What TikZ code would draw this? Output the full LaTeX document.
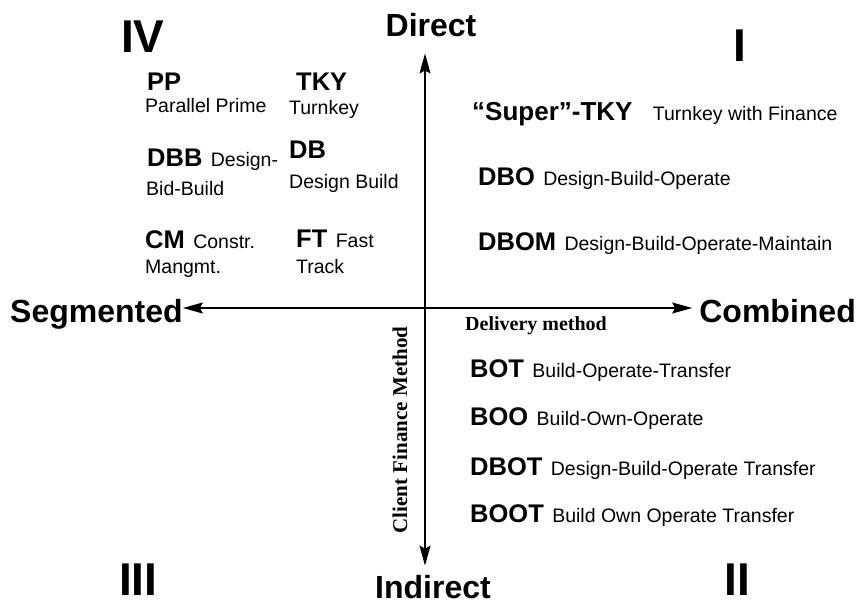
\documentclass[tikz,border=0pt]{standalone}
\usepackage{fontspec}
\setmainfont{Liberation Sans}
\newfontfamily\timesfont{Liberation Serif}
\usetikzlibrary{arrows.meta,positioning}

\begin{document}
\begin{tikzpicture}[x=1pt, y=-1pt, node distance=8pt]
    \tikzstyle{quadrant} = [font=\fontsize{46}{46}\selectfont\bfseries, inner sep=0pt, anchor=base west]
    \tikzstyle{pole} = [font=\fontsize{32}{32}\selectfont\bfseries, inner sep=0pt, anchor=base]
    \tikzstyle{acro} = [font=\fontsize{25.5}{26}\selectfont\bfseries, inner sep=0pt, anchor=base west]
    \tikzstyle{expl} = [font=\fontsize{19.5}{20}\selectfont, inner sep=0pt, anchor=base west]
    \tikzstyle{dim} = [font=\timesfont\fontsize{20}{20}\selectfont\bfseries, inner sep=0pt]
    \tikzstyle{axis} = [draw, line width=1.3pt, {Stealth[length=20pt,width=11pt,inset=3pt]}-{Stealth[length=20pt,width=11pt,inset=3pt]}]

    \useasboundingbox (0,0) rectangle (858,604);

    \node [quadrant] (q4) at (121,53) {IV};
    \node [quadrant] (q1) at (733,62) {I};
    \node [quadrant] (q3) at (119,595) {III};
    \node [quadrant] (q2) at (724,595) {II};

    \node [pole] (direct) at (431,37) {Direct};
    \node [pole] (indirect) at (433,598) {Indirect};
    \node [pole, anchor=base west] (seg) at (10,322) {Segmented};
    \node [pole, anchor=base east] (comb) at (856,322) {Combined};

    \coordinate (o) at (425,308);
    \draw [axis, shorten >=7pt] (seg.east |- o) -- (comb.west |- o);
    \draw [axis, shorten <=16pt, shorten >=9pt] (direct.south -| o) -- (indirect.north -| o);

    \node [dim, anchor=base west] (deliv) at (465,330) {Delivery method};
    \node [dim, font=\timesfont\fontsize{21}{21}\selectfont\bfseries, rotate=90, anchor=base] (finance) at (407,430) {Client Finance Method};

    \node [acro] (pp) at (147,91) {PP};
    \node [expl] (ppd) at (145,113) {Parallel Prime};
    \node [acro] (tky) at (296,91) {TKY};
    \node [expl] (tkyd) at (289,115) {Turnkey};
    \node [acro] (dbb) at (147,167) {DBB};
    \node [expl, base right=of dbb] (dbbd) {Design-};
    \node [expl] (dbbd2) at (146,195) {Bid-Build};
    \node [acro] (db) at (289,158) {DB};
    \node [expl] (dbd) at (289,188) {Design Build};
    \node [acro] (cm) at (145,248) {CM};
    \node [expl, base right=of cm] (cmd) {Constr.};
    \node [expl] (cmd2) at (145,273) {Mangmt.};
    \node [acro] (ft) at (296,247) {FT};
    \node [expl, base right=of ft] (ftd) {Fast};
    \node [expl] (ftd2) at (296,273) {Track};

    \node [acro, font=\fontsize{26}{26}\selectfont\bfseries] (super) at (472,121) {“Super”-TKY};
    \node [expl, base right=20pt of super] (superd) {Turnkey with Finance};
    \node [acro] (dbo) at (478,185) {DBO};
    \node [expl, base right=of dbo] (dbod) {Design-Build-Operate};
    \node [acro] (dbom) at (478,250) {DBOM};
    \node [expl, base right=of dbom] (dbomd) {Design-Build-Operate-Maintain};

    \node [acro] (bot) at (470,377) {BOT};
    \node [expl, base right=of bot] (botd) {Build-Operate-Transfer};
    \node [acro] (boo) at (470,425) {BOO};
    \node [expl, base right=of boo] (bood) {Build-Own-Operate};
    \node [acro] (dbot) at (470,475) {DBOT};
    \node [expl, base right=of dbot] (dbotd) {Design-Build-Operate Transfer};
    \node [acro] (boot) at (470,522) {BOOT};
    \node [expl, base right=of boot] (bootd) {Build Own Operate Transfer};
\end{tikzpicture}
\end{document}
